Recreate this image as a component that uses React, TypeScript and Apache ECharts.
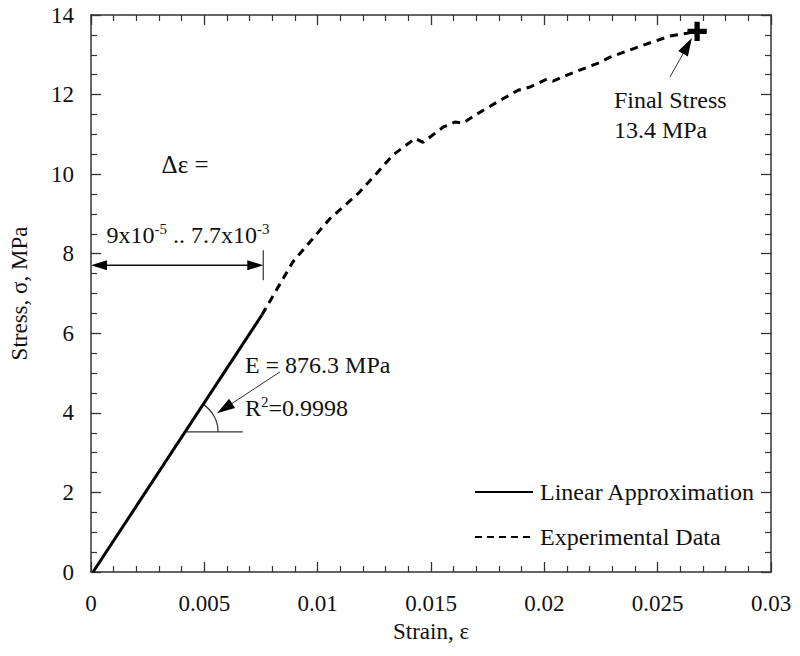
import React, { useEffect, useRef } from 'react';
import * as echarts from 'echarts';

// ---------- data ----------
const strainLinear = [0.00009, 0.00754];
const stressLinear = [0, 6.46];

const strainExp = [
  0.00754, 0.00891, 0.01054, 0.0118, 0.01262, 0.01332, 0.01407, 0.01429, 0.01465,
  0.01553, 0.01606, 0.01641, 0.01694, 0.01791, 0.01884, 0.01937, 0.02012, 0.02038,
  0.021, 0.02246, 0.0229, 0.02435, 0.02554, 0.02629, 0.02674,
];
const stressExp = [
  6.46, 7.8, 8.88, 9.52, 10.03, 10.48, 10.8, 10.9, 10.8,
  11.18, 11.31, 11.28, 11.48, 11.81, 12.11, 12.19, 12.39, 12.34,
  12.49, 12.81, 12.94, 13.24, 13.47, 13.54, 13.59,
];

const finalPoint = [0.02674, 13.59];

const xTickLabels = ['0', '0.005', '0.01', '0.015', '0.02', '0.025', '0.03'];
const yTickLabels = ['0', '2', '4', '6', '8', '10', '12', '14'];

// annotation anchors (data coordinates)
const deltaArrowY = 7.71;
const deltaArrowX = [0, 0.0076];
const deltaBarY = [7.33, 8.09];
const deltaTitlePos = [0.00415, 10.23];
const deltaRangePos = [0.00428, 8.47];
const eArrowFrom = [0.00834, 5.03];
const eArrowTo = [0.00556, 3.99];
const eBaseY = 3.52;
const eBaseX = [0.00415, 0.0067];
const eTextPos = [0.00679, 5.2];
const r2TextPos = [0.00679, 4.12];
const finalArrowFrom = [0.02554, 12.44];
const finalArrowTo = [0.02651, 13.42];
const finalText1Pos = [0.02307, 11.86];
const finalText2Pos = [0.02307, 11.11];
const legendLineX = [0.01694, 0.0195];
const legendTextX = 0.01981;
const legendY = [2.01, 0.88];

const FONT = '"Liberation Serif", "Times New Roman", serif';
const INK = '#111';
const TXT = 24;

export default function App() {
  const ref = useRef<HTMLDivElement>(null);

  useEffect(() => {
    if (!ref.current) return;
    const chart = echarts.init(ref.current, undefined, { renderer: 'svg' });

    const axisCommon = {
      type: 'value' as const,
      axisLine: { show: true, onZero: false, lineStyle: { color: '#333', width: 1.5 } },
      splitLine: { show: false },
      axisTick: { show: true, inside: true, length: 10, lineStyle: { color: '#333', width: 1.3 } },
      minorTick: { show: true, length: 6, lineStyle: { color: '#333', width: 1.2 } },
    };

    chart.setOption({
      animation: false,
      backgroundColor: '#fff',
      grid: { left: 91, right: 29, top: 15, bottom: 84 },
      xAxis: [
        {
          ...axisCommon,
          min: 0,
          max: 0.03,
          interval: 0.005,
          minorTick: { ...axisCommon.minorTick, splitNumber: 5 },
          name: 'Strain, ε',
          nameLocation: 'middle',
          nameGap: 47,
          nameTextStyle: { fontFamily: FONT, fontSize: 23, color: INK },
          axisLabel: {
            margin: 20,
            fontFamily: FONT,
            fontSize: 23,
            color: INK,
            formatter: (v: number) => xTickLabels[Math.round(v / 0.005)] ?? '',
          },
        },
        {
          ...axisCommon,
          position: 'top',
          min: 0,
          max: 0.03,
          interval: 0.005,
          minorTick: { ...axisCommon.minorTick, splitNumber: 5 },
          axisLabel: { show: false },
        },
      ],
      yAxis: [
        {
          ...axisCommon,
          min: 0,
          max: 14,
          interval: 2,
          minorTick: { ...axisCommon.minorTick, splitNumber: 4 },
          name: 'Stress, σ, MPa',
          nameLocation: 'middle',
          nameGap: 60,
          nameTextStyle: { fontFamily: FONT, fontSize: 23, color: INK },
          axisLabel: {
            margin: 17,
            fontFamily: FONT,
            fontSize: 23,
            color: INK,
            formatter: (v: number) => yTickLabels[Math.round(v / 2)] ?? '',
          },
        },
        {
          ...axisCommon,
          position: 'right',
          min: 0,
          max: 14,
          interval: 2,
          minorTick: { ...axisCommon.minorTick, splitNumber: 4 },
          axisLabel: { show: false },
        },
      ],
      series: [
        {
          name: 'Experimental Data',
          type: 'line',
          data: strainExp.map((x, i) => [x, stressExp[i]]),
          showSymbol: false,
          lineStyle: { color: '#000', width: 3, type: [8, 6] },
          z: 2,
        },
        {
          name: 'Linear Approximation',
          type: 'line',
          data: strainLinear.map((x, i) => [x, stressLinear[i]]),
          showSymbol: false,
          lineStyle: { color: '#000', width: 3 },
          z: 3,
        },
        {
          name: 'Final Stress',
          type: 'scatter',
          data: [finalPoint],
          symbol: 'path://M6.2,0H9.8V6.2H16V9.8H9.8V16H6.2V9.8H0V6.2H6.2Z',
          symbolSize: 18,
          itemStyle: { color: '#000', borderColor: '#000', borderWidth: 1.2, opacity: 1 },
          z: 4,
        },
      ],
    });

    const px = (p: number[]) => chart.convertToPixel({ gridIndex: 0 }, p) as number[];

    const arrowHead = (from: number[], tip: number[], len: number, half: number) => {
      const dx = tip[0] - from[0];
      const dy = tip[1] - from[1];
      const d = Math.hypot(dx, dy);
      const ux = dx / d;
      const uy = dy / d;
      const bx = tip[0] - ux * len;
      const by = tip[1] - uy * len;
      return {
        type: 'polygon',
        shape: {
          points: [
            [tip[0], tip[1]],
            [bx - uy * half, by + ux * half],
            [bx + uy * half, by - ux * half],
          ],
        },
        style: { fill: '#000' },
      };
    };

    const lineEl = (a: number[], b: number[], w = 1.2, color = '#222') => ({
      type: 'line',
      shape: { x1: a[0], y1: a[1], x2: b[0], y2: b[1] },
      style: { stroke: color, lineWidth: w },
    });

    const textEl = (p: number[], text: string, size: number, align = 'left', rich?: any) => ({
      type: 'text',
      x: p[0],
      y: p[1],
      style: {
        text,
        fontFamily: FONT,
        fontSize: size,
        fill: INK,
        align,
        verticalAlign: 'middle',
        ...(rich ? { rich } : {}),
      },
    });

    // Δε double arrow
    const da = px([deltaArrowX[0], deltaArrowY]);
    const db = px([deltaArrowX[1], deltaArrowY]);
    const barTop = px([deltaArrowX[1], deltaBarY[1]]);
    const barBot = px([deltaArrowX[1], deltaBarY[0]]);

    // E annotation
    const ef = px(eArrowFrom);
    const et = px(eArrowTo);
    const b0 = px([eBaseX[0], eBaseY]);
    const b1 = px([eBaseX[1], eBaseY]);
    const l0 = px([strainLinear[0], stressLinear[0]]);
    const l1 = px([strainLinear[1], stressLinear[1]]);
    const theta = Math.atan2(l0[1] - l1[1], l1[0] - l0[0]);

    // final stress
    const ff = px(finalArrowFrom);
    const ft = px(finalArrowTo);

    const supRich = {
      base: { fontFamily: FONT, fontSize: TXT, fill: INK },
      sup: { fontFamily: FONT, fontSize: 15, fill: INK, padding: [0, 0, 13, 0] },
    };

    const elements: any[] = [
      // delta epsilon
      lineEl([da[0] + 4, da[1]], [db[0] - 4, db[1]], 1.3, '#111'),
      arrowHead(db, da, 16, 5),
      arrowHead(da, db, 16, 5),
      lineEl(barTop, barBot, 1.2, '#333'),
      textEl(px(deltaTitlePos), 'Δε =', TXT + 1, 'center'),
      textEl(
        px(deltaRangePos),
        '{base|9x10}{sup|-5}{base| .. 7.7x10}{sup|-3}',
        TXT,
        'center',
        supRich,
      ),
      // E annotation
      lineEl(ef, [et[0] + (ef[0] - et[0]) * 0.2, et[1] + (ef[1] - et[1]) * 0.2], 1, '#333'),
      arrowHead(ef, et, 18, 5.5),
      lineEl(b0, b1, 1.2, '#333'),
      {
        type: 'arc',
        shape: { cx: b0[0], cy: b0[1], r: 33, startAngle: -theta, endAngle: 0, clockwise: true },
        style: { stroke: '#333', lineWidth: 1.2, fill: 'none' },
      },
      textEl(px(eTextPos), 'E = 876.3 MPa', TXT),
      textEl(px(r2TextPos), '{base|R}{sup|2}{base|=0.9998}', TXT, 'left', supRich),
      // final stress
      lineEl(ff, [ft[0] + (ff[0] - ft[0]) * 0.3, ft[1] + (ff[1] - ft[1]) * 0.3], 1, '#333'),
      arrowHead(ff, ft, 18, 5.5),
      textEl(px(finalText1Pos), 'Final Stress', TXT),
      textEl(px(finalText2Pos), '13.4 MPa', TXT),
    ];

    // legend
    const lg0a = px([legendLineX[0], legendY[0]]);
    const lg0b = px([legendLineX[1], legendY[0]]);
    const lg1a = px([legendLineX[0], legendY[1]]);
    const lg1b = px([legendLineX[1], legendY[1]]);
    elements.push(
      lineEl(lg0a, lg0b, 2, '#000'),
      { ...lineEl(lg1a, lg1b, 2, '#000'), style: { stroke: '#000', lineWidth: 2, lineDash: [7, 5] } },
      textEl(px([legendTextX, legendY[0]]), 'Linear Approximation', TXT),
      textEl(px([legendTextX, legendY[1]]), 'Experimental Data', TXT),
    );

    chart.setOption({ graphic: { elements } });

    return () => chart.dispose();
  }, []);

  return <div ref={ref} style={{ width: 800, height: 656, position: 'absolute', left: 0, top: 0 }} />;
}
